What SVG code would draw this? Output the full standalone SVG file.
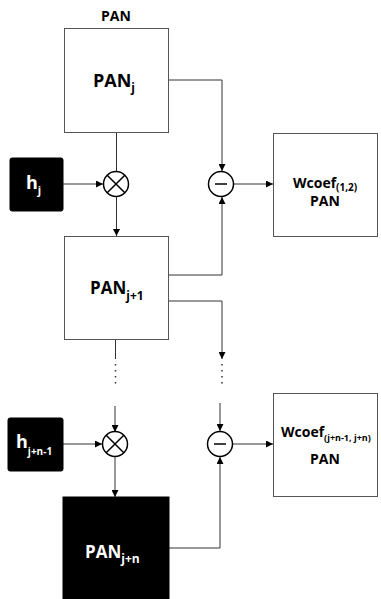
<svg xmlns="http://www.w3.org/2000/svg" width="381" height="599" viewBox="0 0 381 599">
<style>
.box{fill:#fff;stroke:#555;stroke-width:1}
.blk{fill:#000;stroke:#000}
.t{font-family:"Open Sans","DejaVu Sans",sans-serif;font-weight:bold;fill:#000}
.w{fill:#fff}
.ln{fill:none;stroke:#333;stroke-width:1}
.op{fill:#fff;stroke:#000;stroke-width:1.5}
.dot{fill:none;stroke:#333;stroke-width:1.5;stroke-dasharray:1.5 4.5}
</style>
<defs>
<marker id="ar" viewBox="0 0 10 10" refX="10" refY="5" markerWidth="7" markerHeight="7" markerUnits="userSpaceOnUse" orient="auto">
<path d="M0,0 L10,5 L0,10 z" fill="#000"/>
</marker>
</defs>
<rect width="381" height="599" fill="#fff"/>
<text class="t" x="116" y="21" font-size="14" text-anchor="middle">PAN</text>

<g id="connectors">
<line class="ln" x1="116.5" y1="132" x2="116.5" y2="171"/>
<line class="ln" x1="63" y1="184" x2="103" y2="184" marker-end="url(#ar)"/>
<line class="ln" x1="116.5" y1="197" x2="116.5" y2="236" marker-end="url(#ar)"/>
<polyline class="ln" points="169,80 222,80 222,171" marker-end="url(#ar)"/>
<polyline class="ln" points="169,275 222,275 222,197" marker-end="url(#ar)"/>
<line class="ln" x1="234" y1="184" x2="273" y2="184" marker-end="url(#ar)"/>
<line class="ln" x1="115.5" y1="340" x2="115.5" y2="359"/>
<line class="dot" x1="115.5" y1="364" x2="115.5" y2="384"/>
<polyline class="ln" points="169,301 222,301 222,359" marker-end="url(#ar)"/>
<line class="dot" x1="222" y1="364" x2="222" y2="384"/>
<line class="ln" x1="115" y1="406" x2="115" y2="432" marker-end="url(#ar)"/>
<line class="ln" x1="220" y1="403" x2="220" y2="431" marker-end="url(#ar)"/>
<line class="ln" x1="63" y1="444" x2="102" y2="444" marker-end="url(#ar)"/>
<line class="ln" x1="115" y1="456" x2="115" y2="497" marker-end="url(#ar)"/>
<polyline class="ln" points="169,548 220,548 220,457" marker-end="url(#ar)"/>
<line class="ln" x1="233" y1="444" x2="273" y2="444" marker-end="url(#ar)"/>
</g>

<g id="pan_j">
<rect class="box" x="64.5" y="28.5" width="104" height="104"/>
<text class="t" x="93" y="87" font-size="18">PAN<tspan font-size="12" dy="5">j</tspan></text>
</g>
<g id="h_j">
<rect class="blk" x="10" y="158" width="53" height="53" rx="2"/>
<text class="t w" x="26" y="189" font-size="18">h<tspan font-size="11" dy="5">j</tspan></text>
</g>
<g id="mult1">
<circle class="op" cx="116" cy="184" r="12.5"/>
<path d="M107.2,175.2 L124.8,192.8 M124.8,175.2 L107.2,192.8" stroke="#000" stroke-width="1.5"/>
</g>
<g id="sub1">
<circle class="op" cx="221" cy="184" r="12.5"/>
<line x1="215" y1="184" x2="227" y2="184" stroke="#000" stroke-width="1.5"/>
</g>
<g id="wcoef1">
<rect class="box" x="273.5" y="133.5" width="104" height="103"/>
<text class="t" x="293" y="188" font-size="14">Wcoef<tspan font-size="10" dy="3">(1,2)</tspan></text>
<text class="t" x="325" y="206" font-size="14" text-anchor="middle">PAN</text>
</g>
<g id="pan_j1">
<rect class="box" x="64.5" y="236.5" width="104" height="103"/>
<text class="t" x="90" y="294" font-size="17">PAN<tspan font-size="12" dy="6">j+1</tspan></text>
</g>
<g id="h_jn1">
<rect class="blk" x="8" y="418" width="55" height="53" rx="2"/>
<text class="t w" x="16" y="448" font-size="18">h<tspan font-size="10" dy="7">j+n-1</tspan></text>
</g>
<g id="mult2">
<circle class="op" cx="115" cy="444" r="12.5"/>
<path d="M106.2,435.2 L123.8,452.8 M123.8,435.2 L106.2,452.8" stroke="#000" stroke-width="1.5"/>
</g>
<g id="sub2">
<circle class="op" cx="220" cy="444" r="12.5"/>
<line x1="214" y1="444" x2="226" y2="444" stroke="#000" stroke-width="1.5"/>
</g>
<g id="wcoef2">
<rect class="box" x="273.5" y="393.5" width="104" height="103"/>
<text class="t" x="281" y="437" font-size="14">Wcoef<tspan font-size="9" dy="4">(j+n-1, j+n)</tspan></text>
<text class="t" x="325" y="464" font-size="14" text-anchor="middle">PAN</text>
</g>
<g id="pan_jn">
<rect class="blk" x="63" y="497" width="106" height="102"/>
<text class="t w" x="85" y="558" font-size="17">PAN<tspan font-size="12" dy="5">j+n</tspan></text>
</g>
</svg>
